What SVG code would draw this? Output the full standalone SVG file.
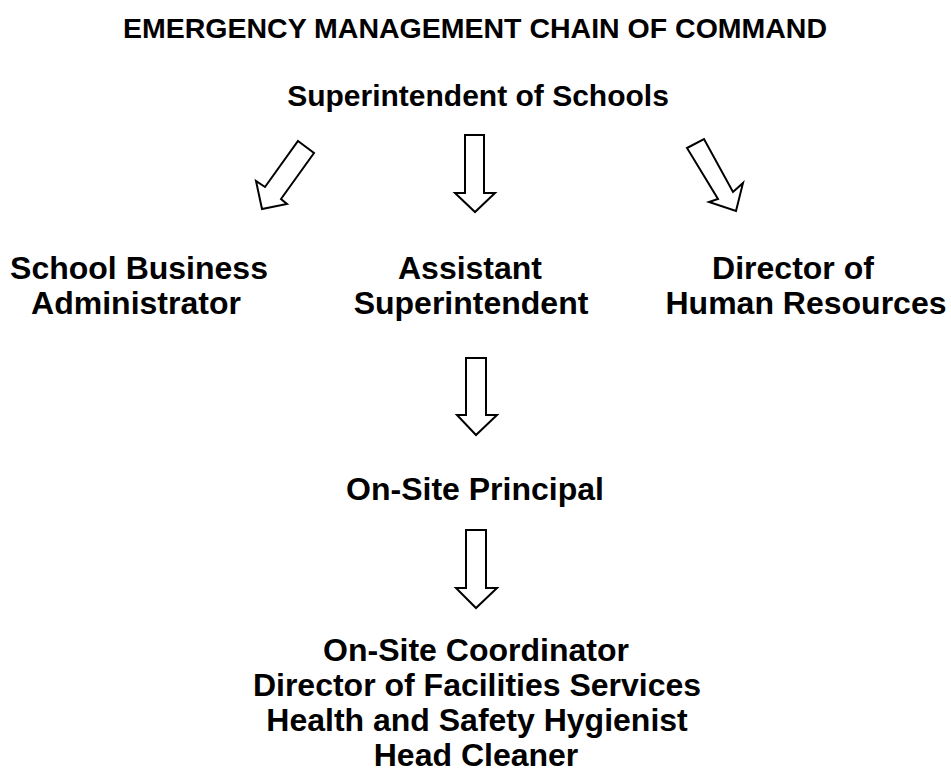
<svg xmlns="http://www.w3.org/2000/svg" width="951" height="782" viewBox="0 0 951 782">
<style>
text{font-family:"Liberation Sans",Arial,sans-serif;font-weight:bold;fill:#000;text-anchor:middle}
.t{font-size:28.5px}
.s{font-size:30px}
.n{font-size:32px}
.arrow{fill:#fff;stroke:#000;stroke-width:2;stroke-linejoin:miter}
</style>
<rect width="951" height="782" fill="#fff"/>
<g id="title"><text class="t" x="475" y="38">EMERGENCY MANAGEMENT CHAIN OF COMMAND</text></g>
<g id="superintendent"><text class="s" x="478" y="106">Superintendent of Schools</text></g>
<g id="business-admin"><text class="n" x="139" y="279">School Business</text><text class="n" x="136" y="314">Administrator</text></g>
<g id="assistant-super"><text class="n" x="470" y="279">Assistant</text><text class="n" x="471" y="314">Superintendent</text></g>
<g id="hr-director"><text class="n" x="793" y="279">Director of</text><text class="n" x="806" y="314">Human Resources</text></g>
<g id="principal"><text class="n" x="475" y="500">On-Site Principal</text></g>
<g id="onsite-team"><text class="n" x="476" y="661">On-Site Coordinator</text><text class="n" x="477" y="696">Director of Facilities Services</text><text class="n" x="477" y="731">Health and Safety Hygienist</text><text class="n" x="476" y="766">Head Cleaner</text></g>
<g id="connectors">
<polygon class="arrow" points="298,141 314,153 281,199 287,204 262,209 256,181 265,187"/>
<polygon class="arrow" points="465,135 484,135 484,193 495,193 475,212 455,193 465,193"/>
<polygon class="arrow" points="687,148 704,139 733,192 743,183 736,211 709,202 718,199"/>
<polygon class="arrow" points="466,358 486,358 486,415 497,415 476,435 457,415 466,415"/>
<polygon class="arrow" points="466,530 486,530 486,588 497,588 476,608 456,588 466,588"/>
</g>
</svg>
